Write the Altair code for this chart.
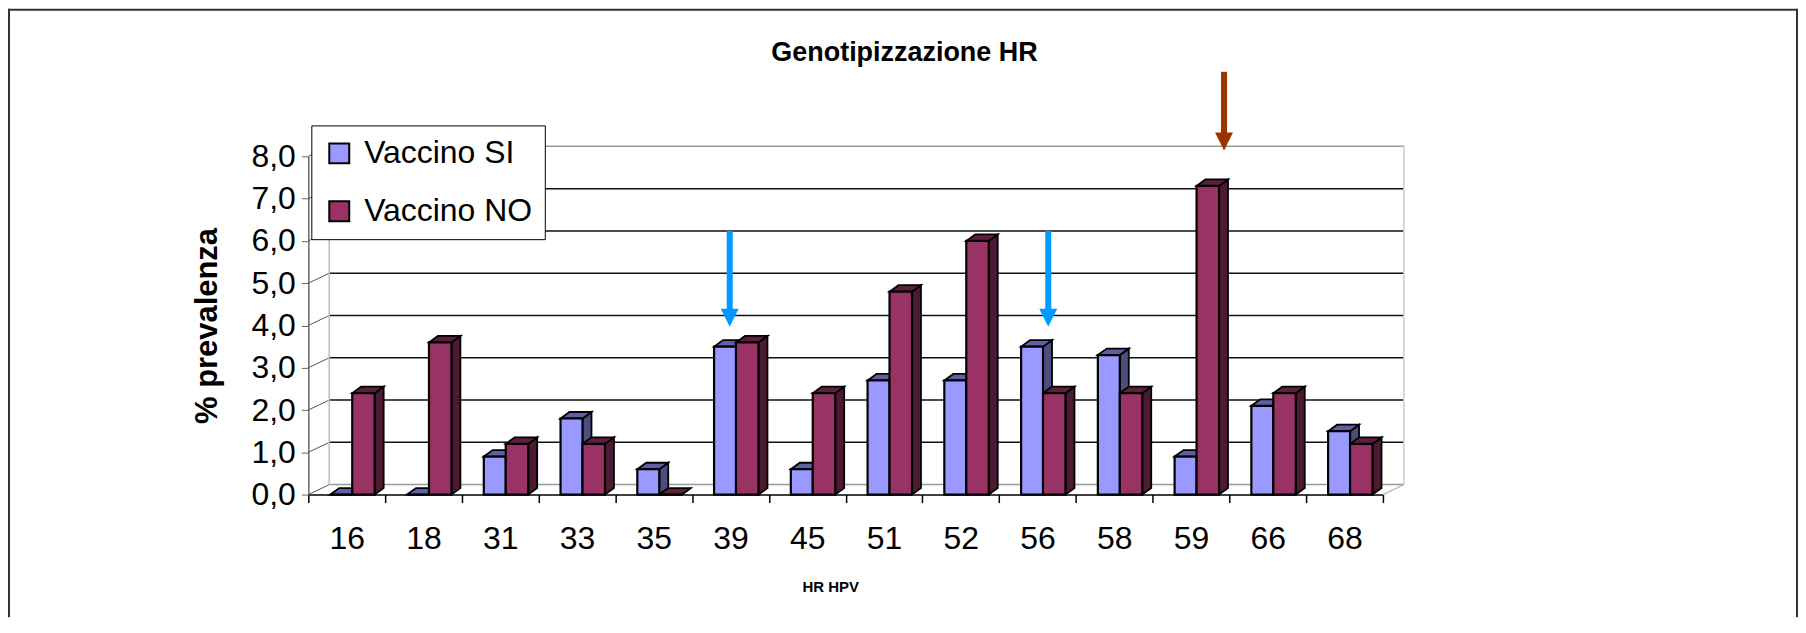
import json
import altair as alt
import pandas as pd

# ---------------- data ----------------
categories = ["16", "18", "31", "33", "35", "39", "45", "51", "52", "56", "58", "59", "66", "68"]
vaccino_si = [0.0, 0.0, 0.9, 1.8, 0.6, 3.5, 0.6, 2.7, 2.7, 3.5, 3.3, 0.9, 2.1, 1.5]
vaccino_no = [2.4, 3.6, 1.2, 1.2, 0.0, 3.6, 2.4, 4.8, 6.0, 2.4, 2.4, 7.3, 2.4, 1.2]
series_names = ["Vaccino SI", "Vaccino NO"]
y_ticks = [0, 1, 2, 3, 4, 5, 6, 7, 8]

arrow_categories = ["39", "56", "59"]
arrow_top = [6.24, 6.24, 10.0]
arrow_tip = [3.97, 3.97, 8.14]

# ---------------- styles / layout ----------------
front_colors = ["#9999FF", "#993366"]
side_colors = ["#4D4D80", "#4D1933"]
top_colors = ["#5F5FA6", "#5E1E3E"]
arrow_colors = ["#0099FF", "#0099FF", "#993300"]
arrow_shift = [0.49, 0.64, 0.93]

FONT = "Liberation Sans"
W, H = 1077, 339
PAD = {"left": 301, "top": 148, "right": 416, "bottom": 123}
N = len(categories)
YMAX = 8
px_x = W / N
px_y = H / YMAX
BAR_L, BAR_M, BAR_R = 22 / px_x, 44 / px_x, 66.5 / px_x
DX, DY = 9 / px_x, 6.5 / px_y          # bar depth
WX, WY = 21 / px_x, 10 / px_y          # back wall depth

# ---------------- derived tables ----------------
front_rows = []
side_rows = [[], []]
top_rows = [[], []]
for i, cat in enumerate(categories):
    for s, (vals, xl, xr) in enumerate([(vaccino_si, BAR_L, BAR_M), (vaccino_no, BAR_M, BAR_R)]):
        v = vals[i]
        x0, x1 = i + xl, i + xr
        bid = f"b{i}_{s}"
        front_rows.append({"series": series_names[s], "cat": cat, "x": x0, "x2": x1, "v": v, "b": 0.0})
        side_rows[s] += [
            {"id": bid, "x": x1, "y": v, "y2": 0.0},
            {"id": bid, "x": x1 + DX, "y": v + DY, "y2": DY},
        ]
        top_rows[s] += [
            {"id": bid, "x": x0, "y": v, "y2": v},
            {"id": bid, "x": x0 + DX, "y": v + DY, "y2": v},
            {"id": bid, "x": x1, "y": v + DY, "y2": v},
            {"id": bid, "x": x1 + DX, "y": v + DY, "y2": v + DY},
        ]
front = pd.DataFrame(front_rows)

wall_rows = []
for k in y_ticks:
    wall_rows.append({"x": WX, "x2": N + WX, "y": k + WY, "y2": k + WY,
                      "c": "#999999" if k in (0, YMAX) else "#111111", "w": 1.5})
    wall_rows.append({"x": 0.0, "x2": WX, "y": float(k), "y2": k + WY, "c": "#555555", "w": 1})
wall_rows.append({"x": WX, "x2": WX, "y": WY, "y2": YMAX + WY, "c": "#BBBBBB", "w": 1.5})
wall_rows.append({"x": N + WX, "x2": N + WX, "y": WY, "y2": YMAX + WY, "c": "#CCCCCC", "w": 1.5})
wall_rows.append({"x": float(N), "x2": N + WX, "y": 0.0, "y2": WY, "c": "#BBBBBB", "w": 1.5})
walls = pd.DataFrame(wall_rows)

arrows = pd.DataFrame({
    "x": [categories.index(c) + sh for c, sh in zip(arrow_categories, arrow_shift)],
    "top": arrow_top,
    "shaft_end": [t + 12 / px_y for t in arrow_tip],
    "head": [t + 9 / px_y for t in arrow_tip],
    "c": arrow_colors,
})

# ---------------- scales / axes ----------------
xscale = alt.Scale(domain=[0, N], nice=False, zero=False)
yscale = alt.Scale(domain=[0, YMAX], nice=False, zero=True)
cat_expr = json.dumps(categories)

x_axis = alt.Axis(
    values=list(range(N + 1)),
    labelExpr=f"datum.value < {N} ? {cat_expr}[datum.value] : ''",
    labelOffset=px_x / 2, labelFlush=False, labelOverlap=False, labelBound=False,
    labelFont=FONT, labelFontSize=32, labelColor="black", labelPadding=21,
    tickSize=8, tickColor="black", tickWidth=1.5, domainColor="black", domainWidth=1.5,
    grid=False, title="HR HPV", titleFont=FONT, titleFontSize=15,
    titleFontWeight="bold", titleColor="black", titlePadding=25, titleX=523,
)
y_axis = alt.Axis(
    values=y_ticks,
    labelExpr="replace(format(datum.value, '.1f'), '.', ',')",
    labelFont=FONT, labelFontSize=32, labelColor="black", labelPadding=6,
    tickSize=7, tickColor="#666666", domainColor="#666666", domainWidth=1.5,
    grid=False, title="% prevalenza", titleFont=FONT, titleFontSize=31,
    titleFontWeight="bold", titleColor="black", titlePadding=28,
)


def X(field):
    return alt.X(field, scale=xscale, axis=x_axis)


def Y(field):
    return alt.Y(field, scale=yscale, axis=y_axis, stack=None)


# ---------------- layers ----------------
wall_layer = alt.Chart(walls).mark_rule().encode(
    x=X("x:Q"), x2="x2:Q", y=Y("y:Q"), y2="y2:Q",
    color=alt.Color("c:N", scale=None),
    strokeWidth=alt.StrokeWidth("w:Q", scale=None),
)


def face_layer(rows, fill):
    return alt.Chart(pd.DataFrame(rows)).mark_area(
        orient="vertical", fill=fill, stroke="black", strokeWidth=1.8, opacity=1,
        fillOpacity=1, interpolate="linear",
    ).encode(
        x=X("x:Q"), y=Y("y:Q"), y2="y2:Q",
        detail="id:N",
    )


side_layers = [face_layer(side_rows[s], side_colors[s]) for s in range(2)]
top_layers = [face_layer(top_rows[s], top_colors[s]) for s in range(2)]

front_layer = alt.Chart(front).mark_rect(stroke="black", strokeWidth=2.2, opacity=1).encode(
    x=X("x:Q"), x2="x2:Q", y=Y("v:Q"), y2="b:Q",
    color=alt.Color(
        "series:N",
        scale=alt.Scale(domain=series_names, range=front_colors),
        sort=series_names,
        legend=alt.Legend(
            orient="none", legendX=3, legendY=-31, title=None,
            symbolType="square", symbolSize=400, symbolStrokeColor="black",
            symbolStrokeWidth=2, symbolOpacity=1,
            labelFont=FONT, labelFontSize=32, labelColor="black", labelLimit=400,
            labelOffset=9, rowPadding=26, padding=12,
            fillColor="white", strokeColor="black", cornerRadius=0,
        ),
    ),
)

shaft_layer = alt.Chart(arrows).mark_rule(strokeWidth=6, strokeCap="butt").encode(
    x=X("x:Q"), y=Y("top:Q"), y2="shaft_end:Q",
    color=alt.Color("c:N", scale=None),
)
head_layer = alt.Chart(arrows).mark_point(
    shape="M-1,-1L1,-1L0,1Z", filled=True, size=324, opacity=1, strokeWidth=0
).encode(
    x=X("x:Q"), y=Y("head:Q"),
    color=alt.Color("c:N", scale=None),
)

frame_data = pd.DataFrame({"a": [0]})
frame_top = alt.Chart(frame_data).mark_rule(color="#333333", strokeWidth=2).encode(
    x=alt.value(-PAD["left"]), x2=alt.value(W + PAD["right"] - 1),
    y=alt.value(-PAD["top"] + 1), y2=alt.value(-PAD["top"] + 1),
)
frame_left = alt.Chart(frame_data).mark_rule(color="#333333", strokeWidth=2).encode(
    x=alt.value(-PAD["left"] + 1), x2=alt.value(-PAD["left"] + 1),
    y=alt.value(-PAD["top"]), y2=alt.value(H + PAD["bottom"]),
)
frame_right = alt.Chart(frame_data).mark_rule(color="#333333", strokeWidth=2).encode(
    x=alt.value(W + PAD["right"] - 1), x2=alt.value(W + PAD["right"] - 1),
    y=alt.value(-PAD["top"]), y2=alt.value(H + PAD["bottom"]),
)

chart = alt.layer(
    wall_layer, *side_layers, *top_layers, front_layer, shaft_layer, head_layer,
    frame_top, frame_left, frame_right,
).properties(
    width=W, height=H,
    padding=PAD,
    autosize=alt.AutoSizeParams(type="none"),
    background="white",
    title=alt.TitleParams(
        "Genotipizzazione HR", font=FONT, fontSize=27, fontWeight="bold",
        color="black", anchor="middle", frame="group", dx=59, dy=63,
    ),
).configure_view(stroke=None)

chart.save("out.html", embed_options={"renderer": "svg", "actions": False})
